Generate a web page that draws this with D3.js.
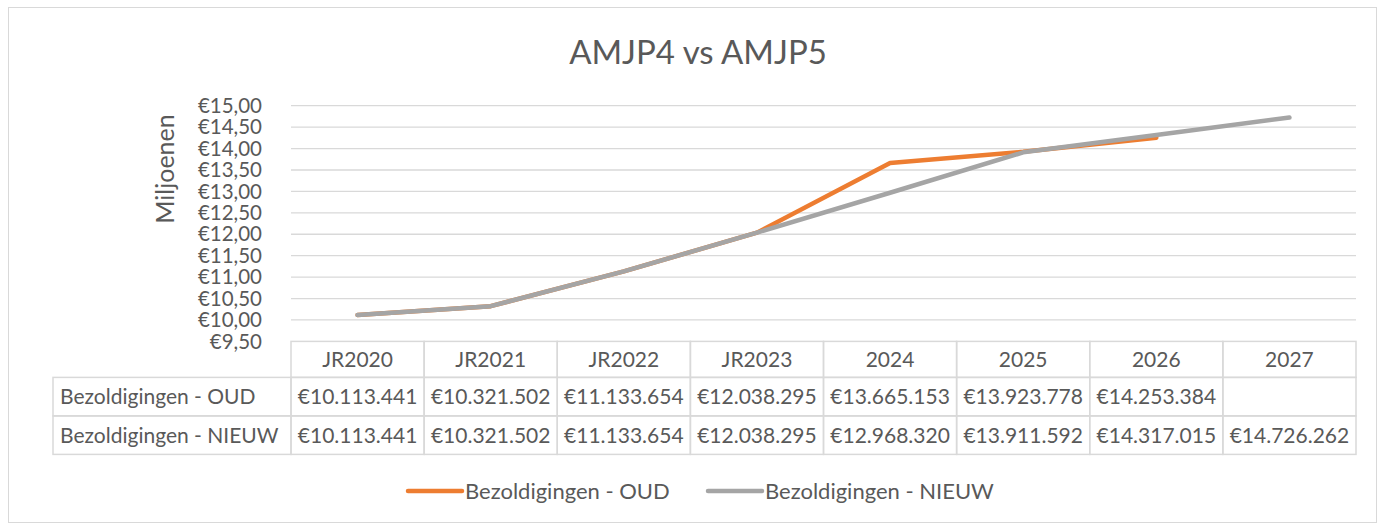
<!DOCTYPE html>
<html>
<head>
<meta charset="utf-8">
<script src="https://cdn.jsdelivr.net/npm/d3@7"></script>
<style>
  body { margin: 0; background: #fff; }
  text { font-family: Lato, "Open Sans", sans-serif; fill: #595959; }
</style>
</head>
<body>
<svg id="chart" width="1378" height="524"></svg>
<script>
const categories = ['JR2020', 'JR2021', 'JR2022', 'JR2023', '2024', '2025', '2026', '2027'];
const seriesNames = ['Bezoldigingen - OUD', 'Bezoldigingen - NIEUW'];
const oud = [10113441, 10321502, 11133654, 12038295, 13665153, 13923778, 14253384, null];
const nieuw = [10113441, 10321502, 11133654, 12038295, 12968320, 13911592, 14317015, 14726262];
const yTicks = [9.5, 10, 10.5, 11, 11.5, 12, 12.5, 13, 13.5, 14, 14.5, 15];
const colors = ['#ED7D31', '#A5A5A5'];

const svg = d3.select('#chart');
const plotLeft = 291, plotRight = 1356, plotTop = 105.7, plotBottom = 341.4;
const rowH = 38.5;

// outer border
svg.append('rect')
  .attr('x', 8.5).attr('y', 7.5)
  .attr('width', 1368).attr('height', 515)
  .attr('fill', 'none').attr('stroke', '#d9d9d9');

svg.append('text')
  .attr('x', 698).attr('y', 64)
  .attr('text-anchor', 'middle')
  .attr('font-size', '33px')
  .text('AMJP4 vs AMJP5');

const x = d3.scaleBand().domain(categories).range([plotLeft, plotRight]);
const y = d3.scaleLinear().domain([9.5, 15]).range([plotBottom, plotTop]);

// gridlines
svg.append('g').selectAll('line')
  .data(yTicks.filter(d => d > 9.5))
  .join('line')
  .attr('x1', plotLeft).attr('x2', plotRight)
  .attr('y1', d => y(d)).attr('y2', d => y(d))
  .attr('stroke', '#d9d9d9').attr('stroke-width', 1.3);

const fmtTick = v => '€' + v.toFixed(2).replace('.', ',');
svg.append('g').selectAll('text')
  .data(yTicks)
  .join('text')
  .attr('x', 262).attr('y', d => y(d))
  .attr('dy', '0.35em')
  .attr('text-anchor', 'end')
  .attr('font-size', '20.5px')
  .text(fmtTick);

svg.append('text')
  .attr('transform', 'translate(174,169) rotate(-90)')
  .attr('text-anchor', 'middle')
  .attr('font-size', '25px')
  .text('Miljoenen');

// lines
const line = d3.line()
  .defined(d => d != null)
  .x((d, i) => x(categories[i]) + x.bandwidth() / 2)
  .y(d => y(d / 1e6));

[oud, nieuw].forEach((s, k) => {
  svg.append('path')
    .datum(s)
    .attr('d', line)
    .attr('fill', 'none')
    .attr('stroke', colors[k])
    .attr('stroke-width', 4.5)
    .attr('stroke-linecap', 'round')
    .attr('stroke-linejoin', 'round');
});

// data table
const fmtVal = v => v == null ? '' : '€' + d3.format(',')(v).replace(/,/g, '.');
const table = svg.append('g');
const labelLeft = 53;
const gridColor = '#d9d9d9';

// header row
categories.forEach(c => {
  table.append('rect')
    .attr('x', x(c)).attr('y', plotBottom)
    .attr('width', x.bandwidth()).attr('height', 36)
    .attr('fill', 'none').attr('stroke', gridColor).attr('stroke-width', 1.5);
  table.append('text')
    .attr('x', x(c) + x.bandwidth() / 2).attr('y', plotBottom + 18)
    .attr('dy', '0.35em').attr('text-anchor', 'middle')
    .attr('font-size', '21px')
    .text(c);
});

[oud, nieuw].forEach((s, k) => {
  const ry = plotBottom + 36 + k * rowH;
  table.append('rect')
    .attr('x', labelLeft).attr('y', ry)
    .attr('width', plotLeft - labelLeft).attr('height', rowH)
    .attr('fill', 'none').attr('stroke', gridColor).attr('stroke-width', 1.5);
  table.append('text')
    .attr('x', labelLeft + 7).attr('y', ry + rowH / 2)
    .attr('dy', '0.35em')
    .attr('font-size', '21px')
    .text(seriesNames[k]);
  s.forEach((v, i) => {
    const c = categories[i];
    table.append('rect')
      .attr('x', x(c)).attr('y', ry)
      .attr('width', x.bandwidth()).attr('height', rowH)
      .attr('fill', 'none').attr('stroke', gridColor).attr('stroke-width', 1.5);
    table.append('text')
      .attr('x', x(c) + x.bandwidth() / 2).attr('y', ry + rowH / 2)
      .attr('dy', '0.35em').attr('text-anchor', 'middle')
      .attr('font-size', '21px')
      .text(fmtVal(v));
  });
});

// legend
const legend = svg.append('g');
const legendX = [408, 708];
seriesNames.forEach((n, k) => {
  legend.append('line')
    .attr('x1', legendX[k]).attr('x2', legendX[k] + 54)
    .attr('y1', 491).attr('y2', 491)
    .attr('stroke', colors[k]).attr('stroke-width', 4.5)
    .attr('stroke-linecap', 'round');
  legend.append('text')
    .attr('x', legendX[k] + 57).attr('y', 491)
    .attr('dy', '0.35em')
    .attr('font-size', '22px')
    .text(n);
});
</script>
</body>
</html>
